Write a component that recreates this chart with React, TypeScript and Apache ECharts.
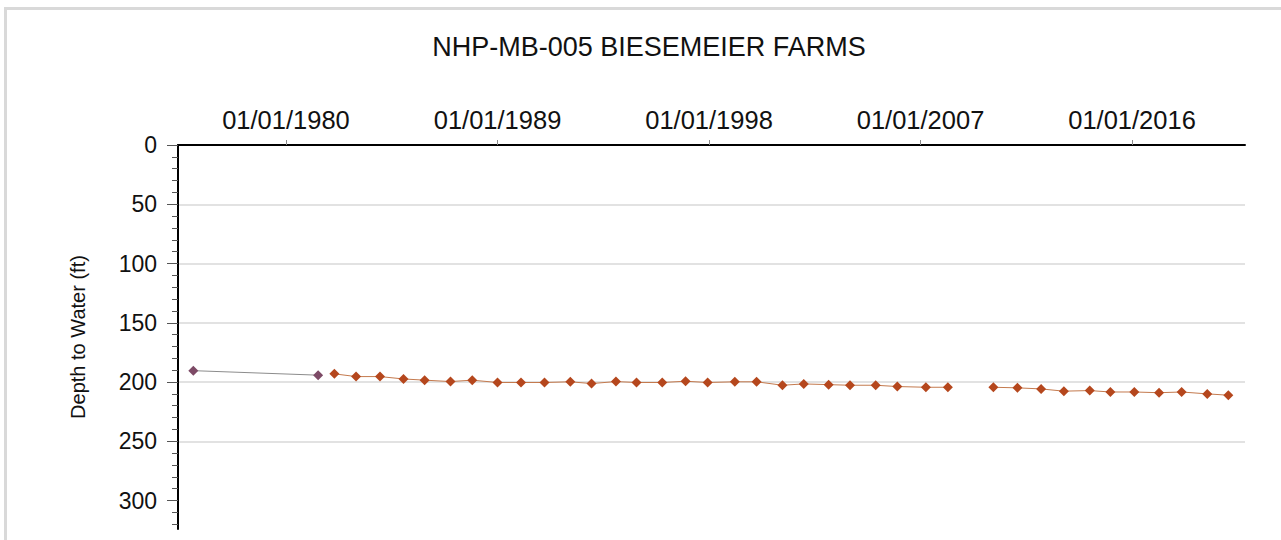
import React, { useEffect, useRef } from 'react';
import * as echarts from 'echarts';

const TITLE = 'NHP-MB-005 BIESEMEIER FARMS';
const Y_NAME = 'Depth to Water (ft)';

// x axis range and labelled ticks
const X_MIN = '1975-05-29';
const X_MAX = '2020-10-22';
const xTickDates = ['1980-01-01', '1989-01-01', '1998-01-01', '2007-01-01', '2016-01-01'];

// y axis range and ticks
const Y_MIN = 0;
const Y_MAX = 324;
const depthTicks = [0, 50, 100, 150, 200, 250, 300];
const depthMinorStep = 10;

// early series (purple)
const earlyDates = ['1976-01-22', '1981-05-15'];
const earlyDepths = [190.4, 194.2];

// later series (orange); null marks the break in the line
const laterDates = [
  '1982-01-22', '1982-12-25', '1984-01-01', '1985-01-01', '1985-11-25',
  '1987-01-01', '1987-12-05', '1989-01-01', '1990-01-01', '1991-01-01',
  '1992-02-06', '1993-01-01', '1994-01-15', '1994-12-01', '1996-01-05',
  '1997-01-01', '1997-12-10', '1999-02-06', '2000-01-10', '2001-02-15',
  '2002-01-12', '2003-02-03', '2004-01-01', '2005-02-03', '2006-01-05',
  '2007-03-25', '2008-03-01', '2009-03-01', '2010-02-06', '2011-02-15',
  '2012-02-18', '2013-02-06', '2014-03-15', '2015-01-30', '2016-02-06',
  '2017-02-24', '2018-02-10', '2019-03-15', '2020-02-06',
];
const laterDepths: (number | null)[] = [
  193.1, 195.4, 195.4, 197.4, 198.4,
  199.6, 198.4, 200.4, 200.4, 200.4,
  199.8, 201.3, 199.6, 200.4, 200.4,
  199.3, 200.4, 199.8, 199.8, 202.7,
  201.6, 202.2, 202.7, 202.7, 203.8,
  204.4, 204.4, null, 204.4, 204.9,
  205.8, 207.7, 207.2, 208.4, 208.4,
  209.0, 208.4, 210.0, 211.1,
];

const FONT = '"Liberation Sans", Arial, Helvetica, sans-serif';

const toMs = (d: string) => Date.parse(d);
const pad = (n: number) => (n < 10 ? '0' + n : '' + n);
const fmtDate = (v: number) => {
  const d = new Date(v);
  return `${pad(d.getUTCMonth() + 1)}/${pad(d.getUTCDate())}/${d.getUTCFullYear()}`;
};

export default function App() {
  const ref = useRef<HTMLDivElement>(null);

  useEffect(() => {
    if (!ref.current) return;
    const chart = echarts.init(ref.current, undefined, { renderer: 'svg' });

    const minorTicks: number[] = [];
    for (let v = Y_MIN + depthMinorStep; v <= Y_MAX; v += depthMinorStep) {
      if (depthTicks.indexOf(v) < 0) minorTicks.push(v);
    }

    const earlyData = earlyDates.map((d, i) => [toMs(d), earlyDepths[i]]);
    const laterData = laterDates.map((d, i) => [toMs(d), laterDepths[i] === null ? '-' : laterDepths[i]]);

    chart.setOption({
      animation: false,
      backgroundColor: '#ffffff',
      title: {
        text: TITLE,
        left: 644,
        top: 28,
        textAlign: 'center',
        textStyle: { fontFamily: FONT, fontSize: 27, fontWeight: 'normal', color: '#111111' },
      },
      graphic: [
        {
          type: 'rect',
          shape: { x: 5.5, y: 8.5, width: 1320, height: 580 },
          style: { fill: 'none', stroke: '#d9d9d9', lineWidth: 3 },
          silent: true,
        },
      ],
      grid: { left: 178, right: 36, top: 145, bottom: 11, containLabel: false },
      xAxis: {
        type: 'value',
        position: 'top',
        min: toMs(X_MIN),
        max: toMs(X_MAX),
        axisLine: { show: true, onZero: false, lineStyle: { color: '#000000', width: 2 } },
        axisTick: {
          show: true,
          inside: false,
          length: 5,
          customValues: xTickDates.map(toMs),
          lineStyle: { color: '#8a8a8a', width: 1 },
        },
        axisLabel: {
          customValues: xTickDates.map(toMs),
          formatter: (v: number) => fmtDate(v),
          fontFamily: FONT,
          fontSize: 25.5,
          color: '#111111',
          margin: 12,
        },
        splitLine: { show: false },
      },
      yAxis: [
        {
          type: 'value',
          inverse: true,
          min: Y_MIN,
          max: Y_MAX,
          interval: 50,
          name: Y_NAME,
          nameLocation: 'middle',
          nameGap: 90,
          nameTextStyle: { fontFamily: FONT, fontSize: 20, color: '#111111' },
          axisLine: { show: true, onZero: false, lineStyle: { color: '#000000', width: 2 } },
          axisTick: {
            show: true,
            length: 11,
            customValues: depthTicks,
            lineStyle: { color: '#555555', width: 1 },
          },
          axisLabel: {
            customValues: depthTicks,
            fontFamily: FONT,
            fontSize: 23,
            color: '#111111',
            margin: 21,
          },
          splitLine: {
            show: true,
            showMinLine: false,
            showMaxLine: false,
            lineStyle: { color: '#d9d9d9', width: 1.5 },
          },
        },
        {
          type: 'value',
          inverse: true,
          min: Y_MIN,
          max: Y_MAX,
          position: 'left',
          axisLine: { show: false },
          axisTick: {
            show: true,
            length: 6,
            customValues: minorTicks,
            lineStyle: { color: '#555555', width: 1 },
          },
          axisLabel: { show: false },
          splitLine: { show: false },
        },
      ],
      series: [
        {
          type: 'line',
          data: earlyData,
          yAxisIndex: 0,
          symbol: 'diamond',
          symbolSize: 10,
          itemStyle: { color: '#7d4a66' },
          lineStyle: { color: '#8c8c8c', width: 1 },
          z: 3,
        },
        {
          type: 'line',
          data: laterData,
          yAxisIndex: 0,
          connectNulls: false,
          symbol: 'diamond',
          symbolSize: 10,
          itemStyle: { color: '#b5471d' },
          lineStyle: { color: '#c47a4e', width: 1 },
          z: 4,
        },
      ],
    });

    return () => chart.dispose();
  }, []);

  return (
    <div
      ref={ref}
      style={{ position: 'fixed', left: 0, top: 0, width: 1281, height: 540, background: '#fff' }}
    />
  );
}
